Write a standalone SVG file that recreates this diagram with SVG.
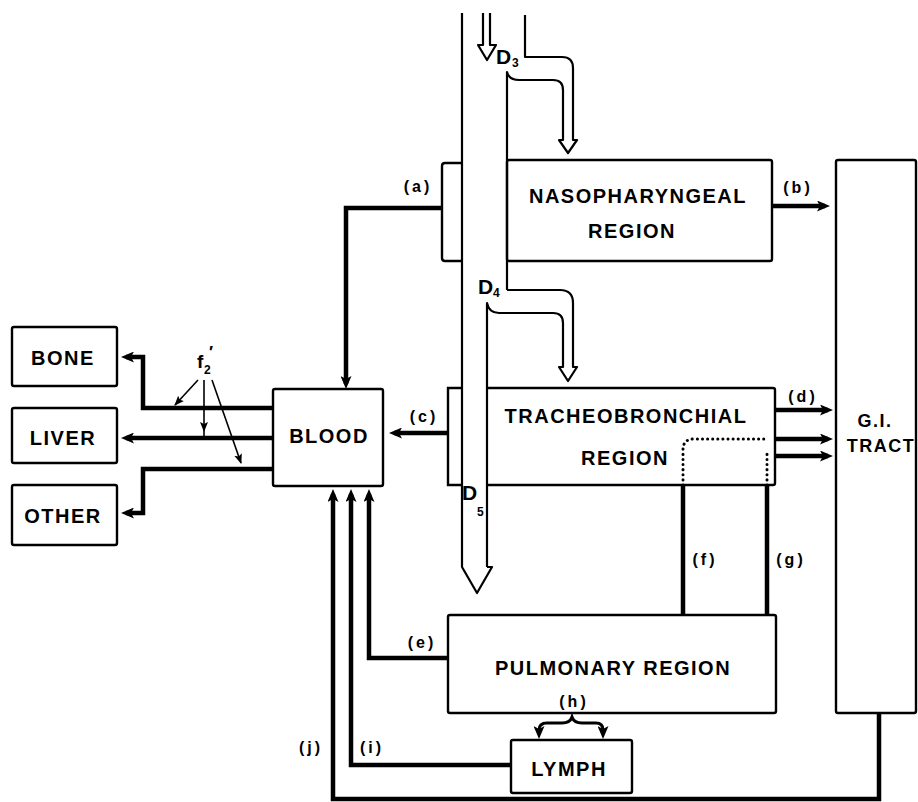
<svg xmlns="http://www.w3.org/2000/svg" width="918" height="802" viewBox="0 0 918 802">
<style>
text{font-family:"Liberation Sans",Arial,Helvetica,sans-serif;font-weight:bold;fill:#000}
.box{fill:none;stroke:#000;stroke-width:2.4}
.lbl{font-size:20px;letter-spacing:1.5px;text-anchor:middle}
.cl{font-size:16px;letter-spacing:3px;text-anchor:middle}
.air{fill:none;stroke:#000;stroke-width:2.2;stroke-linejoin:round}
.con{fill:none;stroke:#000;stroke-width:4.5}
.thin{fill:none;stroke:#000;stroke-width:1.6}
.dot{fill:none;stroke:#000;stroke-width:3;stroke-dasharray:0.1 5;stroke-linecap:round}
.dl{font-size:21px}
.sub{font-size:12px}
</style>
<defs>
<marker id="ah" viewBox="0 0 13 11" refX="8" refY="5.5" markerWidth="13" markerHeight="11" markerUnits="userSpaceOnUse" orient="auto-start-reverse">
<path d="M0,0 L13,5.5 L0,11 L3,5.5 z" fill="#000"/>
</marker>
<marker id="ahs" viewBox="0 0 10 8" refX="9" refY="4" markerWidth="10" markerHeight="8" markerUnits="userSpaceOnUse" orient="auto">
<path d="M0,0 L10,4 L0,8 L2,4 z" fill="#000"/>
</marker>
</defs>

<g id="airway">
<path class="air" d="M483,13 V45 H478 L487,60 L496,45 H490 V13"/>
<path class="air" d="M462,13 V567 L477,593 L492,567 H487"/>
<path class="air" d="M487,567 V303 Q489,313 499,313 H553 Q563,313 563,323 V367 H559 L568,381 L577,367 H573 V303 Q573,290 560,290 H507"/>
<path class="air" d="M507,290 V72 Q509,80 519,80 H553 Q563,80 563,90 V140 H559 L568,153 L577,140 H573 V68 Q573,57 562,57 H525 V15"/>
<text class="dl" x="496" y="64">D</text><text class="sub" x="512" y="67">3</text>
<text class="dl" x="478" y="294">D</text><text class="sub" x="493" y="297">4</text>
<text class="dl" x="462" y="500">D</text><text class="sub" x="477" y="516">5</text>
</g>

<g id="naso">
<path class="box" d="M462,163 H445 Q442,163 442,166 V258 Q442,261 445,261 H462"/>
<rect class="box" x="507" y="160" width="265" height="101" rx="2"/>
<text class="lbl" x="638" y="203">NASOPHARYNGEAL</text>
<text class="lbl" x="632" y="238">REGION</text>
</g>

<g id="tb">
<path class="box" d="M462,388 H448 V485 H462"/>
<path class="box" d="M487,388 H773 Q775,388 775,390 V483 Q775,485 773,485 H487"/>
<text class="lbl" x="626" y="423">TRACHEOBRONCHIAL</text>
<text class="lbl" x="625" y="465">REGION</text>
</g>

<g id="pulmonary">
<rect class="box" x="448" y="615" width="328" height="98" rx="2"/>
<text class="lbl" x="613" y="675">PULMONARY REGION</text>
</g>

<g id="lymph">
<rect class="box" x="511" y="740" width="121" height="53" rx="2"/>
<text class="lbl" x="569" y="776">LYMPH</text>
</g>

<g id="blood">
<rect class="box" x="273" y="389" width="110" height="97" rx="2"/>
<text class="lbl" x="329" y="443">BLOOD</text>
</g>

<g id="bone">
<rect class="box" x="12" y="327" width="105" height="59" rx="2"/>
<text class="lbl" x="63" y="365">BONE</text>
</g>
<g id="liver">
<rect class="box" x="12" y="408" width="105" height="55" rx="2"/>
<text class="lbl" x="63" y="445">LIVER</text>
</g>
<g id="other">
<rect class="box" x="12" y="485" width="105" height="60" rx="2"/>
<text class="lbl" x="63" y="523">OTHER</text>
</g>

<g id="gi">
<rect class="box" x="836" y="160" width="80" height="553" rx="2"/>
<text x="875" y="427" style="font-size:18px;letter-spacing:1.5px;text-anchor:middle">G.I.</text>
<text x="881" y="452" style="font-size:18px;letter-spacing:1.5px;text-anchor:middle">TRACT</text>
</g>

<g id="connectors">
<path class="con" d="M442,208 H346 V384" marker-end="url(#ah)"/>
<path class="con" d="M772,206 H825" marker-end="url(#ah)"/>
<path class="con" d="M448,433 H394" marker-end="url(#ah)"/>
<path class="con" d="M775,410 H828" marker-end="url(#ah)"/>
<path class="con" d="M775,439 H828" marker-end="url(#ah)"/>
<path class="con" d="M775,456 H828" marker-end="url(#ah)"/>
<path class="con" d="M683,485 V615"/>
<path class="con" d="M767,485 V615"/>
<path class="dot" d="M683,485 V450 Q683,439 694,439 H768"/>
<path class="dot" d="M767,485 V453"/>
<path class="con" d="M448,658 H369 V494" marker-end="url(#ah)"/>
<path class="con" d="M511,765 H351 V494" marker-end="url(#ah)"/>
<path class="con" d="M879,713 V799 H333 V494" marker-end="url(#ah)"/>
<path class="con" style="stroke-width:3" d="M539,734 V730 Q539,723 547,723 H562 Q570,723 572,717 Q574,723 582,723 H596 Q603,723 603,730 V734" marker-start="url(#ah)" marker-end="url(#ah)"/>
<path class="con" d="M273,408 H143 V357 H126" marker-end="url(#ah)"/>
<path class="con" d="M273,438 H126" marker-end="url(#ah)"/>
<path class="con" d="M273,469 H143 V513 H126" marker-end="url(#ah)"/>
<path class="thin" d="M198,380 L175,405" marker-end="url(#ahs)"/>
<path class="thin" d="M204,380 V431" marker-end="url(#ahs)"/>
<path class="thin" d="M204,431 V437"/>
<path class="thin" d="M212,380 L241,463" marker-end="url(#ahs)"/>
</g>

<g id="labels">
<text x="197" y="368" style="font-size:19px">f</text><text x="204" y="374" class="sub">2</text><text x="209" y="358" style="font-size:17px">′</text>
<text class="cl" x="418" y="192">(a)</text>
<text class="cl" x="798" y="193">(b)</text>
<text class="cl" x="424" y="422">(c)</text>
<text class="cl" x="803" y="402">(d)</text>
<text class="cl" x="422" y="648">(e)</text>
<text class="cl" x="705" y="565">(f)</text>
<text class="cl" x="791" y="565">(g)</text>
<text class="cl" x="574" y="707">(h)</text>
<text class="cl" x="372" y="753">(i)</text>
<text class="cl" x="311" y="753">(j)</text>
</g>
</svg>
